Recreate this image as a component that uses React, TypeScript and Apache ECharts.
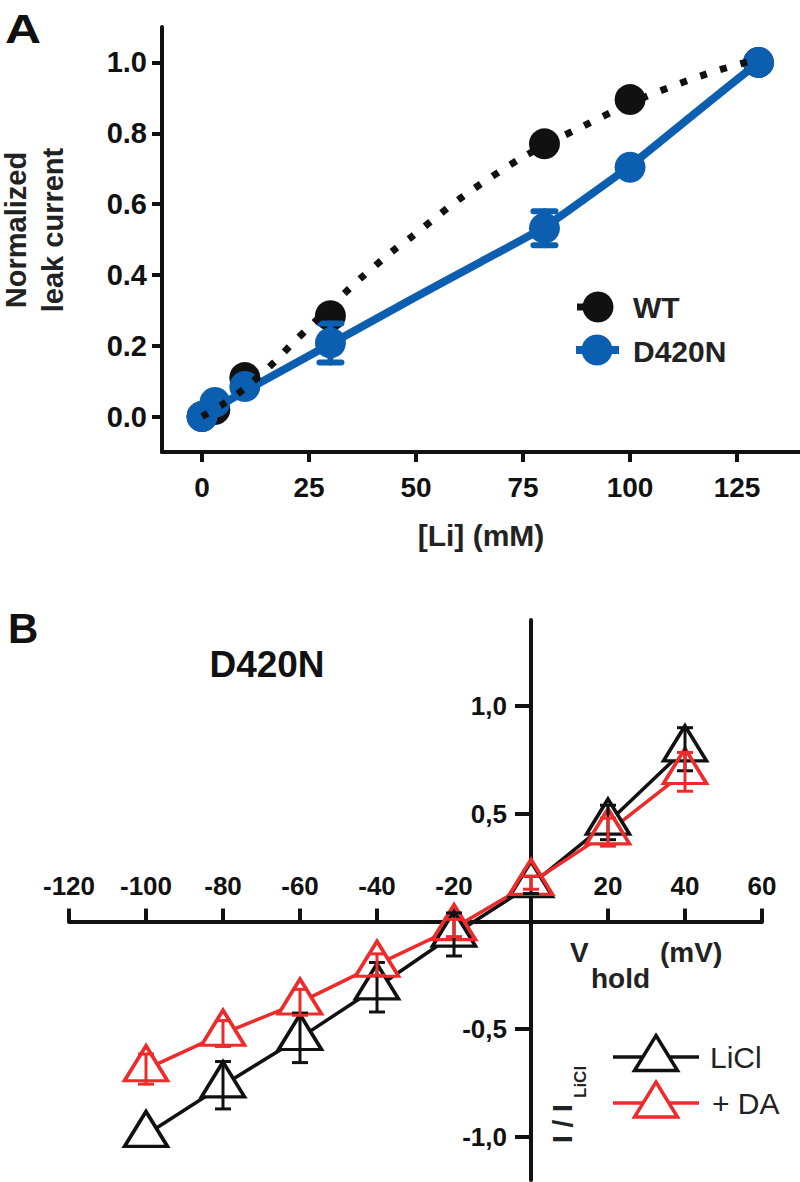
import React, { useEffect, useRef } from "react";
import * as echarts from "echarts";

const FONT = '"Liberation Sans", Arial, Helvetica, sans-serif';
const BLACK = "#111111";
const BLUE = "#0c5fb0";
const RED = "#ec2b2a";

// ---------- Panel A data ----------
const liConc = [0, 3, 10, 30, 80, 100, 130];
const wtValues = [0, 0.02, 0.11, 0.285, 0.77, 0.895, 1.0];
const d420nValues = [0, 0.04, 0.085, 0.208, 0.532, 0.704, 1.0];
const d420nErr = [0, 0, 0, 0.055, 0.048, 0, 0];
// fitted curves
const wtFitX = [0, 5, 10, 17, 21, 25, 33, 37, 45, 49, 61, 75, 89, 103, 118, 130];
const wtFitY = [0, 0.036, 0.08, 0.155, 0.205, 0.252, 0.345, 0.39, 0.472, 0.508, 0.622, 0.733, 0.82, 0.9, 0.968, 1.01];
const d420nFitX = [0, 10, 30, 48, 65, 80, 90, 100, 115, 130];
const d420nFitY = [0, 0.072, 0.205, 0.325, 0.436, 0.535, 0.62, 0.708, 0.855, 1.0];
const aXTicks = [0, 25, 50, 75, 100, 125];
const aYTicks = [0, 0.2, 0.4, 0.6, 0.8, 1.0];

// ---------- Panel B data ----------
const vHold = [-100, -80, -60, -40, -20, 0, 20, 40];
const liclMean = [-0.99, -0.76, -0.54, -0.305, -0.06, 0.17, 0.46, 0.8];
const liclErr = [0, 0.11, 0.115, 0.115, 0.1, 0.04, 0.08, 0.1];
const daMean = [-0.685, -0.52, -0.375, -0.2, -0.03, 0.18, 0.415, 0.695];
const daErr = [0.07, 0.06, 0.06, 0.05, 0.04, 0.03, 0.065, 0.09];
const bXTicks = [-120, -100, -80, -60, -40, -20, 20, 40, 60];
const bYTicks = [-1, -0.5, 0.5, 1];

function errRender(color: string, capHalf: number, width: number, cap: string) {
  return (params: any, api: any) => {
    const x = api.value(0);
    const y = api.value(1);
    const e = api.value(2);
    if (!e) return { type: "group", children: [] };
    const t = api.coord([x, y + e]);
    const b = api.coord([x, y - e]);
    const style = { stroke: color, lineWidth: width, lineCap: cap };
    return {
      type: "group",
      children: [
        { type: "line", shape: { x1: t[0], y1: t[1], x2: b[0], y2: b[1] }, style },
        { type: "line", shape: { x1: t[0] - capHalf, y1: t[1], x2: t[0] + capHalf, y2: t[1] }, style },
        { type: "line", shape: { x1: b[0] - capHalf, y1: b[1], x2: b[0] + capHalf, y2: b[1] }, style },
      ],
    };
  };
}

const TRI_W = 43;
const TRI_H = 35;

function triPoints(cx: number, cy: number) {
  return [
    [cx, cy - TRI_H / 2],
    [cx + TRI_W / 2, cy + TRI_H / 2],
    [cx - TRI_W / 2, cy + TRI_H / 2],
  ];
}

// panel B grid geometry
const B_LEFT = 69;
const B_TOP = 620;
const B_W = 693;
const B_H = 560;
const B_XMIN = -120;
const B_XMAX = 60;
const B_YMIN = -1.2;
const B_YMAX = 1.4;

export default function App() {
  const ref = useRef<HTMLDivElement>(null);

  useEffect(() => {
    if (!ref.current) return;
    const chart = echarts.init(ref.current, null, { renderer: "svg" });

    const boldLabel = (size: number) => ({
      fontSize: size,
      fontWeight: "bold" as const,
      color: BLACK,
      fontFamily: FONT,
    });

    // place B's axes through the origin using offsets
    const zeroY = B_TOP + (B_H * B_YMAX) / (B_YMAX - B_YMIN);
    const zeroX = B_LEFT + (B_W * (0 - B_XMIN)) / (B_XMAX - B_XMIN);
    const bxOffset = -(B_TOP + B_H - zeroY);
    const byOffset = -(zeroX - B_LEFT);

    const option: any = {
      animation: false,
      backgroundColor: "#ffffff",
      grid: [
        { left: 162, top: 27, width: 638, height: 425, containLabel: false },
        { left: B_LEFT, top: B_TOP, width: B_W, height: B_H, containLabel: false },
      ],
      xAxis: [
        {
          type: "value",
          gridIndex: 0,
          min: -9.35,
          max: 139.7,
          axisLine: { show: true, onZero: false, lineStyle: { color: BLACK, width: 4 } },
          axisTick: { show: true, customValues: aXTicks, length: 10, lineStyle: { color: BLACK, width: 4 } },
          axisLabel: { customValues: aXTicks, margin: 21, ...boldLabel(28) },
          splitLine: { show: false },
          name: "[Li] (mM)",
          nameLocation: "middle",
          nameGap: 68,
          nameTextStyle: { fontSize: 30, fontWeight: "bold", color: "#222", fontFamily: FONT },
        },
        {
          type: "value",
          gridIndex: 1,
          min: B_XMIN,
          max: B_XMAX,
          position: "bottom",
          offset: bxOffset,
          axisLine: { show: true, onZero: false, lineStyle: { color: BLACK, width: 4 } },
          axisTick: { show: true, inside: true, customValues: bXTicks, length: 13, lineStyle: { color: BLACK, width: 4 } },
          axisLabel: { inside: true, customValues: bXTicks, margin: 23, ...boldLabel(26) },
          splitLine: { show: false },
        },
      ],
      yAxis: [
        {
          type: "value",
          gridIndex: 0,
          min: -0.1,
          max: 1.1,
          axisLine: { show: true, onZero: false, lineStyle: { color: BLACK, width: 4 } },
          axisTick: { show: true, customValues: aYTicks, length: 10, lineStyle: { color: BLACK, width: 4 } },
          axisLabel: {
            customValues: aYTicks,
            margin: 15,
            formatter: (v: number) => Number(v).toFixed(1),
            ...boldLabel(29),
          },
          splitLine: { show: false },
        },
        {
          type: "value",
          gridIndex: 1,
          min: B_YMIN,
          max: B_YMAX,
          position: "left",
          offset: byOffset,
          axisLine: { show: true, onZero: false, lineStyle: { color: BLACK, width: 4 } },
          axisTick: { show: true, customValues: bYTicks, length: 16, lineStyle: { color: BLACK, width: 4 } },
          axisLabel: {
            customValues: bYTicks,
            margin: 24,
            formatter: (v: number) => Number(v).toFixed(1).replace(".", ","),
            ...boldLabel(26),
          },
          splitLine: { show: false },
        },
      ],
      series: [
        // ----- Panel A -----
        {
          name: "D420N fit",
          type: "line",
          xAxisIndex: 0,
          yAxisIndex: 0,
          data: d420nFitX.map((x, i) => [x, d420nFitY[i]]),
          showSymbol: false,
          smooth: 0.2,
          lineStyle: { color: BLUE, width: 8 },
          z: 1,
          silent: true,
        },
        {
          name: "WT",
          type: "scatter",
          xAxisIndex: 0,
          yAxisIndex: 0,
          data: liConc.map((x, i) => [x, wtValues[i]]),
          symbol: "circle",
          symbolSize: 31,
          itemStyle: { color: BLACK, opacity: 1 },
          z: 2,
        },
        {
          name: "D420N err",
          type: "custom",
          xAxisIndex: 0,
          yAxisIndex: 0,
          data: liConc.map((x, i) => [x, d420nValues[i], d420nErr[i]]),
          encode: { x: 0, y: 1 },
          renderItem: errRender(BLUE, 11, 6, "round"),
          z: 3,
        },
        {
          name: "D420N",
          type: "scatter",
          xAxisIndex: 0,
          yAxisIndex: 0,
          data: liConc.map((x, i) => [x, d420nValues[i]]),
          symbol: "circle",
          symbolSize: 31,
          itemStyle: { color: BLUE, opacity: 1 },
          z: 4,
        },
        {
          name: "WT fit",
          type: "line",
          xAxisIndex: 0,
          yAxisIndex: 0,
          data: wtFitX.map((x, i) => [x, wtFitY[i]]),
          showSymbol: false,
          smooth: 0.3,
          lineStyle: { color: BLACK, width: 7, type: [7, 14], cap: "butt" },
          z: 5,
          silent: true,
        },
        // ----- Panel B -----
        {
          name: "LiCl line",
          type: "line",
          xAxisIndex: 1,
          yAxisIndex: 1,
          data: vHold.map((v, i) => [v, liclMean[i]]),
          showSymbol: false,
          lineStyle: { color: BLACK, width: 3.5 },
          z: 1,
        },
        {
          name: "+ DA line",
          type: "line",
          xAxisIndex: 1,
          yAxisIndex: 1,
          data: vHold.map((v, i) => [v, daMean[i]]),
          showSymbol: false,
          lineStyle: { color: RED, width: 3.5 },
          z: 2,
        },
        {
          name: "mask",
          type: "scatter",
          xAxisIndex: 1,
          yAxisIndex: 1,
          data: [
            ...vHold.map((v, i) => [v, liclMean[i]]),
            ...vHold.map((v, i) => [v, daMean[i]]),
          ],
          symbol: "triangle",
          symbolSize: [TRI_W, TRI_H],
          symbolOffset: [0, -TRI_H / 6],
          itemStyle: { color: "#ffffff", opacity: 1 },
          z: 3,
          silent: true,
        },
        {
          name: "LiCl",
          type: "scatter",
          xAxisIndex: 1,
          yAxisIndex: 1,
          data: vHold.map((v, i) => [v, liclMean[i]]),
          symbol: "triangle",
          symbolSize: [TRI_W, TRI_H],
          symbolOffset: [0, -TRI_H / 6],
          itemStyle: { color: "rgba(255,255,255,0)", borderColor: BLACK, borderWidth: 3.5, opacity: 1 },
          z: 4,
        },
        {
          name: "+ DA",
          type: "scatter",
          xAxisIndex: 1,
          yAxisIndex: 1,
          data: vHold.map((v, i) => [v, daMean[i]]),
          symbol: "triangle",
          symbolSize: [TRI_W, TRI_H],
          symbolOffset: [0, -TRI_H / 6],
          itemStyle: { color: "rgba(255,255,255,0)", borderColor: RED, borderWidth: 3.5, opacity: 1 },
          z: 5,
        },
        {
          name: "LiCl err",
          type: "custom",
          xAxisIndex: 1,
          yAxisIndex: 1,
          data: vHold.map((v, i) => [v, liclMean[i], liclErr[i]]),
          encode: { x: 0, y: 1 },
          renderItem: errRender(BLACK, 8, 3, "butt"),
          z: 6,
        },
        {
          name: "+ DA err",
          type: "custom",
          xAxisIndex: 1,
          yAxisIndex: 1,
          data: vHold.map((v, i) => [v, daMean[i], daErr[i]]),
          encode: { x: 0, y: 1 },
          renderItem: errRender(RED, 8, 3, "butt"),
          z: 7,
        },
      ],
      graphic: [
        // panel letters
        {
          type: "text",
          x: 5,
          y: 29,
          scaleX: 1.25,
          style: { text: "A", fontSize: 40, fontWeight: "bold", fontFamily: FONT, fill: BLACK, align: "left", verticalAlign: "middle" },
        },
        {
          type: "text",
          x: 8,
          y: 628,
          style: { text: "B", fontSize: 42, fontWeight: "bold", fontFamily: FONT, fill: BLACK, align: "left", verticalAlign: "middle" },
        },
        // panel A y-axis name
        {
          type: "text",
          x: 34,
          y: 230,
          rotation: Math.PI / 2,
          style: {
            text: "Normalized\nleak current",
            fontSize: 29,
            lineHeight: 37,
            fontWeight: "bold",
            fontFamily: FONT,
            fill: "#222",
            align: "center",
            verticalAlign: "middle",
          },
        },
        // panel A legend
        { type: "line", shape: { x1: 577, y1: 307, x2: 598, y2: 307 }, style: { stroke: BLACK, lineWidth: 7 } },
        { type: "circle", shape: { cx: 598, cy: 307, r: 15.5 }, style: { fill: BLACK } },
        {
          type: "text",
          x: 633,
          y: 307,
          style: { text: "WT", fontSize: 30, fontWeight: "bold", fontFamily: FONT, fill: "#222", align: "left", verticalAlign: "middle" },
        },
        { type: "line", shape: { x1: 576, y1: 350, x2: 619, y2: 350 }, style: { stroke: BLUE, lineWidth: 8 } },
        { type: "circle", shape: { cx: 597, cy: 350, r: 15.5 }, style: { fill: BLUE } },
        {
          type: "text",
          x: 633,
          y: 351,
          style: { text: "D420N", fontSize: 30, fontWeight: "bold", fontFamily: FONT, fill: "#222", align: "left", verticalAlign: "middle" },
        },
        // panel B title
        {
          type: "text",
          x: 267,
          y: 664,
          style: { text: "D420N", fontSize: 37, fontWeight: "bold", fontFamily: FONT, fill: BLACK, align: "center", verticalAlign: "middle" },
        },
        // panel B x-axis name
        {
          type: "text",
          x: 570,
          y: 952,
          style: { text: "V", fontSize: 28, fontWeight: "bold", fontFamily: FONT, fill: "#222", align: "left", verticalAlign: "middle" },
        },
        {
          type: "text",
          x: 591,
          y: 978,
          style: { text: "hold", fontSize: 28, fontWeight: "bold", fontFamily: FONT, fill: "#222", align: "left", verticalAlign: "middle" },
        },
        {
          type: "text",
          x: 660,
          y: 952,
          style: { text: "(mV)", fontSize: 28, fontWeight: "bold", fontFamily: FONT, fill: "#222", align: "left", verticalAlign: "middle" },
        },
        // panel B y-axis name
        {
          type: "text",
          x: 562,
          y: 1143,
          rotation: Math.PI / 2,
          style: { text: "I / I", fontSize: 28, fontWeight: "bold", fontFamily: FONT, fill: "#222", align: "left", verticalAlign: "middle" },
        },
        {
          type: "text",
          x: 580,
          y: 1098,
          rotation: Math.PI / 2,
          style: { text: "LiCl", fontSize: 17, fontWeight: "bold", fontFamily: FONT, fill: "#222", align: "left", verticalAlign: "middle" },
        },
        // panel B legend
        { type: "line", shape: { x1: 613, y1: 1057, x2: 699, y2: 1057 }, style: { stroke: BLACK, lineWidth: 3.5 } },
        { type: "polygon", shape: { points: triPoints(656, 1053) }, style: { fill: "#ffffff", stroke: BLACK, lineWidth: 3.5 } },
        {
          type: "text",
          x: 710,
          y: 1057,
          style: { text: "LiCl", fontSize: 30, fontFamily: FONT, fill: "#222", align: "left", verticalAlign: "middle" },
        },
        { type: "line", shape: { x1: 613, y1: 1103, x2: 699, y2: 1103 }, style: { stroke: RED, lineWidth: 3.5 } },
        { type: "polygon", shape: { points: triPoints(656, 1099.5) }, style: { fill: "#ffffff", stroke: RED, lineWidth: 3.5 } },
        {
          type: "text",
          x: 712,
          y: 1103,
          style: { text: "+ DA", fontSize: 30, fontFamily: FONT, fill: "#222", align: "left", verticalAlign: "middle" },
        },
      ],
    };

    chart.setOption(option);
    return () => {
      chart.dispose();
    };
  }, []);

  return (
    <div
      ref={ref}
      style={{ position: "absolute", left: 0, top: 0, width: 800, height: 1182, background: "#ffffff" }}
    />
  );
}
